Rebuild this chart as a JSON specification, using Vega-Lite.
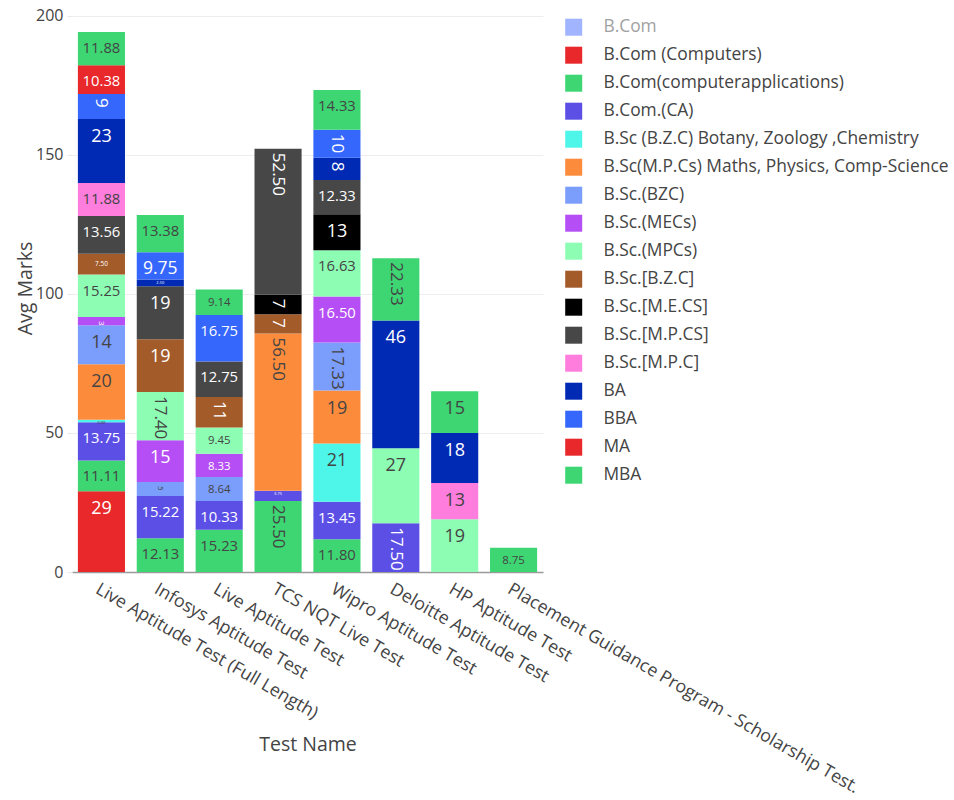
{
  "$schema": "https://vega.github.io/schema/vega-lite/v6.json",
  "width": 471,
  "height": 568,
  "autosize": {"type": "none"},
  "padding": {"left": 72, "top": 4, "right": 411, "bottom": 228},
  "background": "white",
  "config": {
    "font": "Open Sans",
    "view": {"stroke": null},
    "legend": {"labelFont": "Open Sans"}
  },
  "data": {
    "values": [
      {"test": "Live Aptitude Test (Full Length)", "degree": "B.Com (Computers)", "marks": 29},
      {"test": "Live Aptitude Test (Full Length)", "degree": "B.Com(computerapplications)", "marks": 11.11},
      {"test": "Live Aptitude Test (Full Length)", "degree": "B.Com.(CA)", "marks": 13.75},
      {"test": "Live Aptitude Test (Full Length)", "degree": "B.Sc (B.Z.C) Botany, Zoology ,Chemistry", "marks": 0.88},
      {"test": "Live Aptitude Test (Full Length)", "degree": "B.Sc(M.P.Cs) Maths, Physics, Comp-Science", "marks": 20},
      {"test": "Live Aptitude Test (Full Length)", "degree": "B.Sc.(BZC)", "marks": 14},
      {"test": "Live Aptitude Test (Full Length)", "degree": "B.Sc.(MECs)", "marks": 3},
      {"test": "Live Aptitude Test (Full Length)", "degree": "B.Sc.(MPCs)", "marks": 15.25},
      {"test": "Live Aptitude Test (Full Length)", "degree": "B.Sc.[B.Z.C]", "marks": 7.5},
      {"test": "Live Aptitude Test (Full Length)", "degree": "B.Sc.[M.P.CS]", "marks": 13.56},
      {"test": "Live Aptitude Test (Full Length)", "degree": "B.Sc.[M.P.C]", "marks": 11.88},
      {"test": "Live Aptitude Test (Full Length)", "degree": "BA", "marks": 23},
      {"test": "Live Aptitude Test (Full Length)", "degree": "BBA", "marks": 9},
      {"test": "Live Aptitude Test (Full Length)", "degree": "MA", "marks": 10.38},
      {"test": "Live Aptitude Test (Full Length)", "degree": "MBA", "marks": 11.88},
      {"test": "Infosys Aptitude Test", "degree": "B.Com(computerapplications)", "marks": 12.13},
      {"test": "Infosys Aptitude Test", "degree": "B.Com.(CA)", "marks": 15.22},
      {"test": "Infosys Aptitude Test", "degree": "B.Sc.(BZC)", "marks": 5},
      {"test": "Infosys Aptitude Test", "degree": "B.Sc.(MECs)", "marks": 15},
      {"test": "Infosys Aptitude Test", "degree": "B.Sc.(MPCs)", "marks": 17.4},
      {"test": "Infosys Aptitude Test", "degree": "B.Sc.[B.Z.C]", "marks": 19},
      {"test": "Infosys Aptitude Test", "degree": "B.Sc.[M.P.CS]", "marks": 19},
      {"test": "Infosys Aptitude Test", "degree": "BA", "marks": 2.5},
      {"test": "Infosys Aptitude Test", "degree": "BBA", "marks": 9.75},
      {"test": "Infosys Aptitude Test", "degree": "MBA", "marks": 13.38},
      {"test": "Live Aptitude Test", "degree": "B.Com(computerapplications)", "marks": 15.23},
      {"test": "Live Aptitude Test", "degree": "B.Com.(CA)", "marks": 10.33},
      {"test": "Live Aptitude Test", "degree": "B.Sc.(BZC)", "marks": 8.64},
      {"test": "Live Aptitude Test", "degree": "B.Sc.(MECs)", "marks": 8.33},
      {"test": "Live Aptitude Test", "degree": "B.Sc.(MPCs)", "marks": 9.45},
      {"test": "Live Aptitude Test", "degree": "B.Sc.[B.Z.C]", "marks": 11},
      {"test": "Live Aptitude Test", "degree": "B.Sc.[M.P.CS]", "marks": 12.75},
      {"test": "Live Aptitude Test", "degree": "BBA", "marks": 16.75},
      {"test": "Live Aptitude Test", "degree": "MBA", "marks": 9.14},
      {"test": "TCS NQT Live Test", "degree": "B.Com(computerapplications)", "marks": 25.5},
      {"test": "TCS NQT Live Test", "degree": "B.Com.(CA)", "marks": 3.75},
      {"test": "TCS NQT Live Test", "degree": "B.Sc(M.P.Cs) Maths, Physics, Comp-Science", "marks": 56.5},
      {"test": "TCS NQT Live Test", "degree": "B.Sc.[B.Z.C]", "marks": 7},
      {"test": "TCS NQT Live Test", "degree": "B.Sc.[M.E.CS]", "marks": 7},
      {"test": "TCS NQT Live Test", "degree": "B.Sc.[M.P.CS]", "marks": 52.5},
      {"test": "Wipro Aptitude Test", "degree": "B.Com(computerapplications)", "marks": 11.8},
      {"test": "Wipro Aptitude Test", "degree": "B.Com.(CA)", "marks": 13.45},
      {"test": "Wipro Aptitude Test", "degree": "B.Sc (B.Z.C) Botany, Zoology ,Chemistry", "marks": 21},
      {"test": "Wipro Aptitude Test", "degree": "B.Sc(M.P.Cs) Maths, Physics, Comp-Science", "marks": 19},
      {"test": "Wipro Aptitude Test", "degree": "B.Sc.(BZC)", "marks": 17.33},
      {"test": "Wipro Aptitude Test", "degree": "B.Sc.(MECs)", "marks": 16.5},
      {"test": "Wipro Aptitude Test", "degree": "B.Sc.(MPCs)", "marks": 16.63},
      {"test": "Wipro Aptitude Test", "degree": "B.Sc.[M.E.CS]", "marks": 13},
      {"test": "Wipro Aptitude Test", "degree": "B.Sc.[M.P.CS]", "marks": 12.33},
      {"test": "Wipro Aptitude Test", "degree": "BA", "marks": 8},
      {"test": "Wipro Aptitude Test", "degree": "BBA", "marks": 10},
      {"test": "Wipro Aptitude Test", "degree": "MBA", "marks": 14.33},
      {"test": "Deloitte Aptitude Test", "degree": "B.Com.(CA)", "marks": 17.5},
      {"test": "Deloitte Aptitude Test", "degree": "B.Sc.(MPCs)", "marks": 27},
      {"test": "Deloitte Aptitude Test", "degree": "BA", "marks": 46},
      {"test": "Deloitte Aptitude Test", "degree": "MBA", "marks": 22.33},
      {"test": "HP Aptitude Test", "degree": "B.Sc.(MPCs)", "marks": 19},
      {"test": "HP Aptitude Test", "degree": "B.Sc.[M.P.C]", "marks": 13},
      {"test": "HP Aptitude Test", "degree": "BA", "marks": 18},
      {"test": "HP Aptitude Test", "degree": "MBA", "marks": 15},
      {"test": "Placement Guidance Program - Scholarship Test.", "degree": "MBA", "marks": 8.75}
    ]
  },
  "transform": [
    {"stack": "marks", "groupby": ["test"], "sort": [{"field": "degree", "order": "ascending"}], "as": ["m0", "m1"]}
  ],
  "encoding": {
    "x": {
      "field": "test",
      "type": "nominal",
      "title": "Test Name",
      "sort": ["Live Aptitude Test (Full Length)", "Infosys Aptitude Test", "Live Aptitude Test", "TCS NQT Live Test", "Wipro Aptitude Test", "Deloitte Aptitude Test", "HP Aptitude Test", "Placement Guidance Program - Scholarship Test."],
      "scale": {"paddingInner": 0.2, "paddingOuter": 0.1},
      "axis": {
        "labelAngle": 30,
        "labelAlign": "left",
        "labelBaseline": "top",
        "labelFontSize": 17.8,
        "labelColor": "#444",
        "labelPadding": 8,
        "labelLimit": 600,
        "ticks": false,
        "domainColor": "#9a9a9a",
        "domainWidth": 1.5,
        "titleFontSize": 19.5,
        "titleFontWeight": "normal",
        "titleColor": "#444",
        "titleY": 172,
        "titleBaseline": "middle"
      }
    },
    "y": {
      "field": "m1",
      "type": "quantitative",
      "title": "Avg Marks",
      "scale": {"domain": [0, 204.3], "nice": false, "zero": true},
      "axis": {
        "values": [0, 50, 100, 150, 200],
        "labelFontSize": 16,
        "labelColor": "#444",
        "labelPadding": 4,
        "tickSize": 5,
        "tickColor": "#e8e8e8",
        "domain": false,
        "gridColor": "#eeeeee",
        "titleFontSize": 19.5,
        "titleFontWeight": "normal",
        "titleColor": "#444",
        "titleX": -47,
        "titleBaseline": "middle"
      }
    }
  },
  "layer": [
    {
      "mark": {"type": "bar"},
      "encoding": {
        "y2": {"field": "m0"},
        "color": {
          "field": "degree",
          "type": "nominal",
          "scale": {
            "domain": ["B.Com", "B.Com (Computers)", "B.Com(computerapplications)", "B.Com.(CA)", "B.Sc (B.Z.C) Botany, Zoology ,Chemistry", "B.Sc(M.P.Cs) Maths, Physics, Comp-Science", "B.Sc.(BZC)", "B.Sc.(MECs)", "B.Sc.(MPCs)", "B.Sc.[B.Z.C]", "B.Sc.[M.E.CS]", "B.Sc.[M.P.CS]", "B.Sc.[M.P.C]", "BA", "BBA", "MA", "MBA"],
            "range": ["#a0b4ff", "#e8282b", "#3dd673", "#5c4fe6", "#4ef6e9", "#fc8c3c", "#7b9dfc", "#b54ef5", "#8dfdb4", "#a35b2a", "#000000", "#474747", "#ff7ddd", "#002ab3", "#3567fc", "#e8282b", "#3dd673"]
          },
          "legend": {
            "title": null,
            "orient": "none",
            "legendX": 493,
            "legendY": 14.5,
            "direction": "vertical",
            "symbolType": "square",
            "symbolSize": 289,
            "symbolStrokeWidth": 0,
            "labelFontSize": 17.4,
            "labelColor": "#444",
            "labelLimit": 500,
            "labelOffset": 21,
            "rowPadding": 9,
            "padding": 0,
            "encode": {
              "labels": {"update": {"opacity": {"signal": "datum.label === 'B.Com' ? 0.5 : 1"}}}
            }
          }
        }
      }
    },
    {
      "transform": [{"filter": "datum.marks % 1 === 0 && datum.marks > 11"}],
      "mark": {"type": "text", "baseline": "middle", "align": "center", "dy": 18, "fontSize": 18},
      "encoding": {
        "text": {"field": "marks", "format": "d"},
        "color": {"value": "white", "condition": {"test": "indexof(['B.Com(computerapplications)','B.Sc (B.Z.C) Botany, Zoology ,Chemistry','B.Sc(M.P.Cs) Maths, Physics, Comp-Science','B.Sc.(BZC)','B.Sc.(MPCs)','B.Sc.[M.P.C]','MBA'], datum.degree) >= 0", "value": "#444"}}
      }
    },
    {
      "transform": [{"filter": "datum.marks % 1 !== 0 && datum.marks >= 9.6 && datum.marks <= 17"}],
      "mark": {"type": "text", "baseline": "middle", "align": "center", "dy": 17},
      "encoding": {
        "text": {"field": "marks", "format": ".2f"},
        "size": {"value": 14.8, "condition": {"test": "datum.marks < 10", "value": 17.5}},
        "color": {"value": "white", "condition": {"test": "indexof(['B.Com(computerapplications)','B.Sc (B.Z.C) Botany, Zoology ,Chemistry','B.Sc(M.P.Cs) Maths, Physics, Comp-Science','B.Sc.(BZC)','B.Sc.(MPCs)','B.Sc.[M.P.C]','MBA'], datum.degree) >= 0", "value": "#444"}}
      }
    },
    {
      "transform": [{"filter": "datum.marks % 1 !== 0 && datum.marks >= 8 && datum.marks < 9.6"}],
      "mark": {"type": "text", "baseline": "middle", "align": "center", "dy": 13.5, "fontSize": 11.4},
      "encoding": {
        "text": {"field": "marks", "format": ".2f"},
        "color": {"value": "white", "condition": {"test": "indexof(['B.Com(computerapplications)','B.Sc (B.Z.C) Botany, Zoology ,Chemistry','B.Sc(M.P.Cs) Maths, Physics, Comp-Science','B.Sc.(BZC)','B.Sc.(MPCs)','B.Sc.[M.P.C]','MBA'], datum.degree) >= 0", "value": "#444"}}
      }
    },
    {
      "transform": [{"filter": "datum.marks % 1 !== 0 && datum.marks >= 5 && datum.marks < 8"}],
      "mark": {"type": "text", "baseline": "middle", "align": "center", "dy": 10.5, "fontSize": 6.5},
      "encoding": {
        "text": {"field": "marks", "format": ".2f"},
        "color": {"value": "white", "condition": {"test": "indexof(['B.Com(computerapplications)','B.Sc (B.Z.C) Botany, Zoology ,Chemistry','B.Sc(M.P.Cs) Maths, Physics, Comp-Science','B.Sc.(BZC)','B.Sc.(MPCs)','B.Sc.[M.P.C]','MBA'], datum.degree) >= 0", "value": "#444"}}
      }
    },
    {
      "transform": [{"filter": "datum.marks % 1 !== 0 && datum.marks < 5"}],
      "mark": {"type": "text", "baseline": "middle", "align": "center", "dy": 3.5, "fontSize": 4},
      "encoding": {
        "text": {"field": "marks", "format": ".2f"},
        "color": {"value": "white", "condition": {"test": "indexof(['B.Com(computerapplications)','B.Sc (B.Z.C) Botany, Zoology ,Chemistry','B.Sc(M.P.Cs) Maths, Physics, Comp-Science','B.Sc.(BZC)','B.Sc.(MPCs)','B.Sc.[M.P.C]','MBA'], datum.degree) >= 0", "value": "#444"}}
      }
    },
    {
      "transform": [{"filter": "datum.marks % 1 === 0 && datum.marks <= 11"}],
      "mark": {"type": "text", "baseline": "middle", "align": "left", "angle": 90, "dx": 4},
      "encoding": {
        "text": {"field": "marks", "format": "d"},
        "size": {"value": 17, "condition": {"test": "datum.marks < 6", "value": 8}},
        "color": {"value": "white", "condition": {"test": "indexof(['B.Com(computerapplications)','B.Sc (B.Z.C) Botany, Zoology ,Chemistry','B.Sc(M.P.Cs) Maths, Physics, Comp-Science','B.Sc.(BZC)','B.Sc.(MPCs)','B.Sc.[M.P.C]','MBA'], datum.degree) >= 0", "value": "#444"}}
      }
    },
    {
      "transform": [{"filter": "datum.marks % 1 !== 0 && datum.marks > 17"}],
      "mark": {"type": "text", "baseline": "middle", "align": "left", "angle": 90, "dx": 4, "fontSize": 17},
      "encoding": {
        "text": {"field": "marks", "format": ".2f"},
        "color": {"value": "white", "condition": {"test": "indexof(['B.Com(computerapplications)','B.Sc (B.Z.C) Botany, Zoology ,Chemistry','B.Sc(M.P.Cs) Maths, Physics, Comp-Science','B.Sc.(BZC)','B.Sc.(MPCs)','B.Sc.[M.P.C]','MBA'], datum.degree) >= 0", "value": "#444"}}
      }
    }
  ]
}
